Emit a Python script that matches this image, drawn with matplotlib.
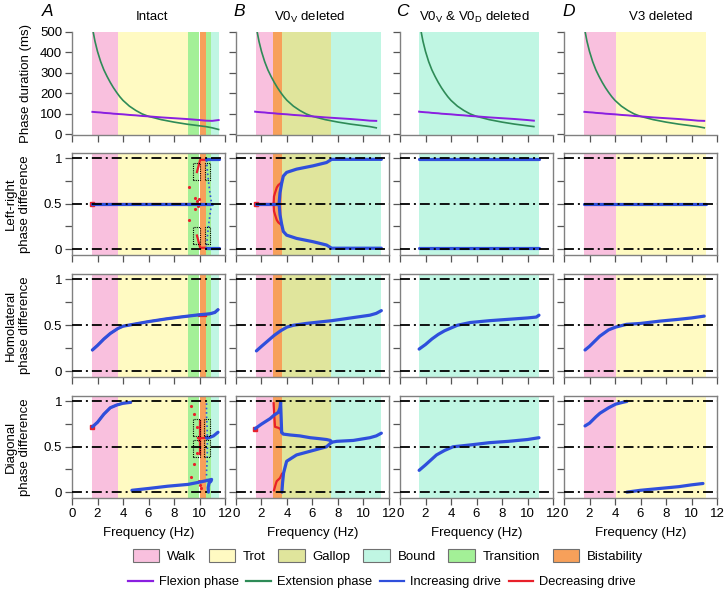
import numpy as np
import matplotlib
matplotlib.use("Agg")
import matplotlib.pyplot as plt
from matplotlib.patches import Patch, Rectangle
from matplotlib.lines import Line2D

plt.rcParams['font.family'] = ['Liberation Sans', 'DejaVu Sans']
plt.rcParams['font.size'] = 9

# ---- colours
C_WALK = '#f9c0de'
C_TROT = '#fffac2'
C_GALLOP = '#e0e59c'
C_BOUND = '#c0f6e3'
C_TRANS = '#a3f097'
C_BIST = '#f7a05a'
C_FLEX = '#8a1fe0'
C_EXT = '#2e8b57'
C_INC = '#2f4fdc'
C_DEC = '#e8202a'

# ---- column titles and gait regions (Hz)
titles = ['Intact', 'V0$_\\mathregular{V}$ deleted',
          'V0$_\\mathregular{V}$ & V0$_\\mathregular{D}$ deleted', 'V3 deleted']
letters = ['A', 'B', 'C', 'D']
regions = [
    [(1.6, 3.6, C_WALK), (3.6, 9.1, C_TROT), (9.1, 10.0, C_TRANS),
     (10.0, 10.5, C_BIST), (10.5, 10.9, C_TRANS), (10.9, 11.5, C_BOUND)],
    [(1.57, 2.93, C_WALK), (2.93, 3.58, C_BIST), (3.58, 7.42, C_GALLOP),
     (7.42, 11.4, C_BOUND)],
    [(1.49, 10.9, C_BOUND)],
    [(1.57, 4.05, C_WALK), (4.05, 11.14, C_TROT)],
]
f_range = [(1.6, 11.5), (1.55, 11.4), (1.45, 10.9), (1.6, 11.1)]

# ---- phase durations (ms)
dur_f = [1.5, 1.6, 1.8, 2.0, 2.25, 2.5, 2.75, 3.0, 3.25, 3.5, 3.75, 4.0, 4.5,
         5.0, 5.5, 6.0, 7.0, 8.0, 9.0, 10.0, 10.5, 11.0, 11.5]
flex_ms = [111, 110, 109, 108, 107, 105, 104, 103, 101, 100, 99, 98, 95,
           93, 90, 88, 83, 79, 75, 70, 67, 66, 70]
ext_ms = [560, 520, 455, 405, 355, 315, 283, 254, 228, 205, 184, 166, 138,
          117, 100, 88, 72, 60, 50, 42, 38, 32, 24]

# ---- left-right phase difference
lrA_inc_f = [1.6, 10.95]
lrA_inc = [0.5, 0.5]
lrA_v_f = [10.55, 10.62, 10.7, 10.82, 10.95, 10.82, 10.7, 10.62, 10.55]
lrA_v = [0.98, 0.86, 0.75, 0.62, 0.5, 0.38, 0.25, 0.14, 0.02]
lrA_hi_f = [10.5, 11.5]
lrA_dec_f = [1.6, 10.1]
lrA_dec = [0.5, 0.5]
lrA_dec_up_f = [9.8, 9.95, 10.05, 10.5]
lrA_dec_up = [0.85, 0.93, 0.985, 0.985]
lrA_dots_f = [9.18, 9.18, 9.65, 9.8, 9.65, 9.85, 9.95]
lrA_dots = [0.68, 0.32, 0.56, 0.53, 0.44, 0.47, 0.55]
lrA_boxes = [(9.5, 10.04), (10.43, 10.82)]

lrB_up_f = [3.38, 3.45, 3.58, 3.71, 3.97, 4.75, 6.06, 7.1, 7.5, 11.4]
lrB_up = [0.5, 0.62, 0.725, 0.805, 0.846, 0.882, 0.919, 0.955, 0.99, 0.99]
lrB_mid_f = [1.57, 3.38]
lrB_dec_f = [2.95, 2.98, 3.06, 3.2, 3.32, 3.58]
lrB_dec = [0.5, 0.58, 0.62, 0.68, 0.706, 0.736]

lrC_f = [1.5, 10.9]
lrD_f = [1.6, 11.1]

# ---- homolateral phase difference
hoA_f = [1.6, 2.0, 2.5, 3.0, 3.6, 4.0, 4.8, 6.0, 7.4, 8.5, 9.1, 10.0, 10.8, 11.2, 11.45]
hoA = [0.23, 0.28, 0.35, 0.41, 0.465, 0.49, 0.51, 0.54, 0.57, 0.59, 0.6, 0.615, 0.625, 0.64, 0.67]
hoA_dec_f = [9.95, 10.5]
hoA_dec = [0.6, 0.6]
hoB_f = [1.6, 2.0, 2.5, 3.0, 3.5, 4.0, 4.5, 5.5, 7.5, 9.0, 10.5, 11.0, 11.4]
hoB = [0.22, 0.27, 0.33, 0.39, 0.44, 0.48, 0.5, 0.52, 0.55, 0.58, 0.61, 0.63, 0.66]
hoC_f = [1.5, 2.0, 2.5, 3.0, 3.5, 4.0, 4.5, 5.5, 7.0, 8.5, 10.0, 10.7, 10.9]
hoC = [0.24, 0.29, 0.35, 0.4, 0.44, 0.47, 0.5, 0.53, 0.55, 0.565, 0.58, 0.59, 0.61]
hoD_f = [1.65, 2.0, 2.8, 3.5, 4.05, 4.9, 6.0, 7.5, 9.0, 10.0, 11.0]
hoD = [0.23, 0.27, 0.38, 0.45, 0.48, 0.51, 0.52, 0.545, 0.565, 0.58, 0.6]

# ---- diagonal phase difference
diA_up_f = [1.6, 2.0, 2.5, 3.0, 3.5, 4.0, 4.6]
diA_up = [0.72, 0.77, 0.86, 0.93, 0.96, 0.98, 0.99]
diA_lo_f = [4.7, 6.0, 7.5, 9.1, 10.0, 10.5, 10.95, 10.9, 10.75, 10.68, 10.7]
diA_lo = [0.02, 0.04, 0.065, 0.085, 0.11, 0.125, 0.14, 0.12, 0.1, 0.05, 0.0]
diA_rt_f = [10.55, 10.75, 11.1, 11.45]
diA_rt = [0.6, 0.6, 0.62, 0.66]
diA_vdot_f = [10.55, 10.55, 10.6, 10.62, 10.6, 10.55, 10.55]
diA_vdot = [0.98, 0.85, 0.7, 0.5, 0.35, 0.22, 0.15]
diA_dec_h_f = [9.9, 10.55]
diA_dec_h = [0.6, 0.6]
diA_dec_v = [0.42, 0.78]
diA_dots_f = [9.36, 9.54, 9.8, 9.93, 9.8, 9.6, 9.36, 10.06, 9.95, 10.1]
diA_dots = [0.95, 0.86, 0.72, 0.57, 0.43, 0.31, 0.17, 0.08, 0.12, 0.05]
diA_boxes = [(9.46, 10.04), (10.35, 10.82)]

diB_ul_f = [1.5, 2.0, 2.67, 3.0, 3.32, 3.45, 3.5, 3.58]
diB_ul = [0.70, 0.75, 0.81, 0.85, 0.88, 0.93, 0.99, 0.66]
diB_um_f = [3.58, 3.7, 4.25, 5.0, 5.82, 6.5, 7.1, 7.4, 7.5]
diB_um = [0.66, 0.64, 0.63, 0.62, 0.6, 0.59, 0.58, 0.57, 0.55]
diB_rt_f = [7.5, 7.9, 9.2, 10.5, 11.0, 11.4]
diB_rt = [0.55, 0.56, 0.57, 0.6, 0.62, 0.65]
diB_lo_f = [3.6, 3.65, 3.73, 3.97, 4.75, 6.06, 7.1, 7.5]
diB_lo = [0.0, 0.1, 0.21, 0.34, 0.41, 0.46, 0.5, 0.55]
diB_dec1_f = [2.95, 3.0, 3.06, 3.3, 3.45, 3.6]
diB_dec1 = [0.98, 0.85, 0.72, 0.71, 0.70, 0.66]
diB_dec2_f = [2.98, 3.1, 3.19, 3.45, 3.6]
diB_dec2 = [0.02, 0.08, 0.12, 0.155, 0.2]

diC_f = [1.5, 2.0, 2.86, 3.5, 4.16, 5.5, 7.0, 8.5, 10.0, 10.9]
diC = [0.24, 0.3, 0.41, 0.46, 0.5, 0.52, 0.545, 0.56, 0.58, 0.6]
diD_up_f = [1.65, 2.0, 2.5, 2.82, 3.5, 4.05, 4.6, 4.93]
diD_up = [0.73, 0.76, 0.83, 0.87, 0.93, 0.97, 0.99, 1.0]
diD_lo_f = [4.93, 6.0, 7.5, 9.0, 10.0, 10.9]
diD_lo = [0.0, 0.02, 0.04, 0.06, 0.08, 0.095]

ylabels = ['Phase duration (ms)', 'Left-right\nphase difference',
           'Homolateral\nphase difference', 'Diagonal\nphase difference']

W, H = 725, 590
fig = plt.figure(figsize=(7.25, 5.9), dpi=100)
col_x = [72, 236, 400, 564]
col_w = 153
row_y = [(32, 135), (153, 255), (274, 377), (396, 498)]
SPINE = '#808080'
DASH = (0, (5.5, 2.2, 1.1, 2.2))


def inc(ax, x, y, **kw):
    ax.plot(x, y, color=C_INC, lw=2.3, solid_capstyle='round', zorder=4, **kw)


def dec(ax, x, y, **kw):
    ax.plot(x, y, color=C_DEC, lw=1.6, zorder=3, **kw)


axes = []
for r in range(4):
    row = []
    for c in range(4):
        y0, y1 = row_y[r]
        ax = fig.add_axes([col_x[c] / W, 1 - y1 / H, col_w / W, (y1 - y0) / H])
        for lo, hi, col in regions[c]:
            ax.axvspan(lo, hi, color=col, lw=0, zorder=0)
        ax.set_xlim(0, 12)
        ax.set_xticks(range(0, 13, 2))
        for s in ax.spines.values():
            s.set_color(SPINE)
            s.set_linewidth(1.0)
        ax.tick_params(direction='out', length=5, width=0.9, color='#555555',
                       pad=2, labelsize=9.5)
        if r == 0:
            ax.set_ylim(-3, 500)
            ax.set_yticks(range(0, 501, 100))
            ax.spines['top'].set_visible(False)
            ax.spines['right'].set_visible(False)
            lo_f, hi_f = f_range[c]
            ff = np.array(dur_f)
            m = (ff >= lo_f - 0.06) & (ff <= hi_f + 0.01)
            ax.plot(ff[m], np.array(ext_ms)[m], color=C_EXT, lw=1.2, zorder=3)
            ax.plot(ff[m], np.array(flex_ms)[m], color=C_FLEX, lw=1.4, zorder=3)
        else:
            ax.set_ylim(-0.065, 1.06)
            ax.set_yticks([0, 0.25, 0.5, 0.75, 1])
            ax.set_yticklabels(['0', '', '0.5', '', '1'])
            for yy in (0, 0.5, 1):
                ax.axhline(yy, color='black', lw=1.3, ls=DASH, zorder=6)
        if c > 0:
            ax.set_yticklabels([])
        if r < 3:
            ax.set_xticklabels([])
        else:
            ax.set_xlabel('Frequency (Hz)', fontsize=9.5, labelpad=5)
        row.append(ax)
    axes.append(row)

# ---- left-right row
ax = axes[1][0]
dec(ax, lrA_dec_f, lrA_dec)
ax.plot([1.6], [0.5], 's', color=C_DEC, ms=3, zorder=3)
dec(ax, lrA_dec_up_f, lrA_dec_up)
dec(ax, lrA_dec_up_f, [1 - v for v in lrA_dec_up])
ax.plot(lrA_dots_f, lrA_dots, '.', color=C_DEC, ms=2.5, zorder=3)
inc(ax, lrA_inc_f, lrA_inc)
ax.plot(lrA_v_f, lrA_v, ':', color=C_INC, lw=1.2, zorder=4)
inc(ax, lrA_hi_f, [0.99, 0.99])
inc(ax, lrA_hi_f, [0.01, 0.01])
for b0, b1 in lrA_boxes:
    for y0b, y1b in ((0.76, 0.945), (0.06, 0.24)):
        ax.add_patch(Rectangle((b0, y0b), b1 - b0, y1b - y0b, fill=False,
                               ls=(0, (1, 1)), lw=0.8, ec='black', zorder=5))

ax = axes[1][1]
dec(ax, lrB_mid_f, [0.5, 0.5])
ax.plot([1.57], [0.5], 's', color=C_DEC, ms=3, zorder=3)
dec(ax, lrB_dec_f, lrB_dec)
dec(ax, lrB_dec_f, [1 - v for v in lrB_dec])
inc(ax, lrB_mid_f, [0.5, 0.5])
inc(ax, lrB_up_f, lrB_up)
inc(ax, lrB_up_f, [1 - v for v in lrB_up])

ax = axes[1][2]
inc(ax, lrC_f, [0.99, 0.99])
inc(ax, lrC_f, [0.01, 0.01])

ax = axes[1][3]
inc(ax, lrD_f, [0.5, 0.5])

# ---- homolateral row
ax = axes[2][0]
dec(ax, hoA_f, hoA)
dec(ax, hoA_dec_f, hoA_dec)
inc(ax, hoA_f, hoA)
inc(axes[2][1], hoB_f, hoB)
inc(axes[2][2], hoC_f, hoC)
inc(axes[2][3], hoD_f, hoD)

# ---- diagonal row
ax = axes[3][0]
dec(ax, diA_up_f, diA_up)
ax.plot([1.6], [0.72], 's', color=C_DEC, ms=3, zorder=3)
dec(ax, diA_dec_h_f, diA_dec_h)
dec(ax, [10.0, 10.0], diA_dec_v)
ax.plot(diA_dots_f, diA_dots, '.', color=C_DEC, ms=2.5, zorder=3)
inc(ax, diA_up_f, diA_up)
inc(ax, diA_lo_f, diA_lo)
inc(ax, diA_rt_f, diA_rt)
ax.plot(diA_vdot_f, diA_vdot, ':', color=C_INC, lw=1.2, zorder=4)
for b0, b1 in diA_boxes:
    for y0b, y1b in ((0.62, 0.81), (0.39, 0.57)):
        ax.add_patch(Rectangle((b0, y0b), b1 - b0, y1b - y0b, fill=False,
                               ls=(0, (1, 1)), lw=0.8, ec='black', zorder=5))

ax = axes[3][1]
dec(ax, diB_dec1_f, diB_dec1)
dec(ax, diB_dec2_f, diB_dec2)
ax.plot([1.5], [0.70], 's', color=C_DEC, ms=3, zorder=3)
inc(ax, diB_ul_f, diB_ul)
inc(ax, diB_um_f, diB_um)
inc(ax, diB_rt_f, diB_rt)
inc(ax, diB_lo_f, diB_lo)

inc(axes[3][2], diC_f, diC)
ax = axes[3][3]
inc(ax, diD_up_f, diD_up)
inc(ax, diD_lo_f, diD_lo)

# ---- labels
title_x = [152, 310, 474, 661]
letter_x = [47.5, 239, 402, 568.5]
for c in range(4):
    fig.text(title_x[c] / W, 1 - 17 / H, titles[c], ha='center', va='center',
             fontsize=9.5)
    fig.text(letter_x[c] / W, 1 - 11 / H, letters[c], ha='center',
             va='center', fontsize=12.5, style='italic')

ylab_x = [26, 18, 18, 18]
for r in range(4):
    y0, y1 = row_y[r]
    fig.text(ylab_x[r] / W, 1 - (y0 + y1) / 2 / H, ylabels[r], rotation=90,
             ha='center', va='center', fontsize=9.5, linespacing=1.15)

# ---- legends
gait_handles = [Patch(facecolor=col, edgecolor='#707070', lw=0.8, label=lab)
                for lab, col in [('Walk', C_WALK), ('Trot', C_TROT),
                                 ('Gallop', C_GALLOP), ('Bound', C_BOUND),
                                 ('Transition', C_TRANS), ('Bistability', C_BIST)]]
fig.legend(handles=gait_handles, loc='center', ncol=6, frameon=False,
           bbox_to_anchor=(388 / W, 1 - 556 / H), fontsize=9.5,
           handlelength=2.0, handleheight=1.15, handletextpad=0.6,
           columnspacing=0.95)
line_handles = [Line2D([], [], color=col, lw=1.6, label=lab)
                for lab, col in [('Flexion phase', C_FLEX),
                                 ('Extension phase', C_EXT),
                                 ('Increasing drive', C_INC),
                                 ('Decreasing drive', C_DEC)]]
fig.legend(handles=line_handles, loc='center', ncol=4, frameon=False,
           bbox_to_anchor=(382 / W, 1 - 582 / H), fontsize=9.3,
           handlelength=1.9, handletextpad=0.45, columnspacing=0.6)

fig.savefig('out.png', dpi=100)
